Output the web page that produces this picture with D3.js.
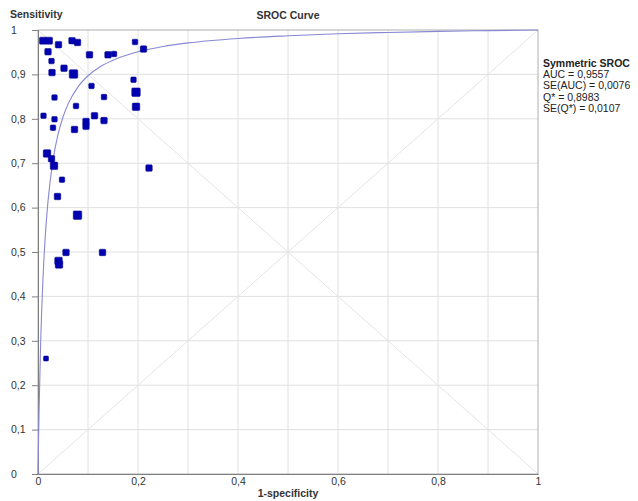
<!DOCTYPE html>
<html>
<head>
<meta charset="utf-8">
<script src="https://cdn.jsdelivr.net/npm/d3@7"></script>
<style>
    body { margin: 0; background: #fff; }
    text { font-family: "Liberation Sans", Arial, sans-serif; }
</style>
</head>
<body>
<script>
// study points: 1-specificity, sensitivity, marker size (weight)
const fpr = [0.010, 0.022, 0.041, 0.068, 0.079, 0.194, 0.211, 0.020, 0.103, 0.140,
    0.152, 0.027, 0.052, 0.028, 0.071, 0.191, 0.196, 0.107, 0.033, 0.132,
    0.076, 0.196, 0.011, 0.033, 0.113, 0.096, 0.096, 0.132, 0.030, 0.073,
    0.018, 0.027, 0.032, 0.222, 0.048, 0.039, 0.079, 0.056, 0.129, 0.041,
    0.042, 0.016];
const sens = [0.976, 0.976, 0.967, 0.976, 0.972, 0.973, 0.957, 0.951, 0.944, 0.944,
    0.946, 0.930, 0.914, 0.904, 0.901, 0.888, 0.860, 0.874, 0.848, 0.849,
    0.829, 0.827, 0.807, 0.799, 0.807, 0.794, 0.783, 0.796, 0.780, 0.776,
    0.722, 0.710, 0.694, 0.689, 0.663, 0.625, 0.583, 0.499, 0.499, 0.480,
    0.472, 0.260];
const weight = [7, 7, 6.5, 6.5, 6.5, 5.5, 6.5, 6.5, 6.5, 6.5,
    5.5, 5.5, 6.5, 6.5, 8.5, 5.5, 8.5, 5.5, 5.5, 5.5,
    5.5, 7.5, 5.5, 5.5, 6.5, 6.5, 6.5, 6.5, 5.5, 6.5,
    7.5, 6.5, 7.5, 6.5, 5.5, 6.5, 8.5, 6.5, 6.5, 7.5,
    7.5, 5];

// SROC curve
const curveX = [0, 0.0003, 0.001, 0.002, 0.005, 0.01, 0.015, 0.02, 0.03, 0.04, 0.05, 0.06,
    0.08, 0.1, 0.125, 0.15, 0.2, 0.25, 0.3, 0.4, 0.5, 0.6, 0.7, 0.8, 0.9, 1];
const curveY = [0, 0.023, 0.072, 0.135, 0.282, 0.441, 0.543, 0.614, 0.707, 0.765, 0.804, 0.833,
    0.872, 0.897, 0.918, 0.932, 0.951, 0.963, 0.971, 0.981, 0.987, 0.9915, 0.9945, 0.9968, 0.9986, 1];

const yTicks = [0, 0.1, 0.2, 0.3, 0.4, 0.5, 0.6, 0.7, 0.8, 0.9, 1];
const xTicks = [0, 0.2, 0.4, 0.6, 0.8, 1];
const gridTicks = [0.1, 0.2, 0.3, 0.4, 0.5, 0.6, 0.7, 0.8, 0.9];

const legendTitle = 'Symmetric SROC';
const legendLines = ['AUC = 0,9557', 'SE(AUC) = 0,0076', 'Q* = 0,8983', 'SE(Q*) = 0,0107'];

const width = 638, height = 501;
const margin = {top: 30, right: 100, bottom: 27, left: 38};
const w = width - margin.left - margin.right;
const h = height - margin.top - margin.bottom;

const fmt = d => d === 0 || d === 1 ? String(d) : d3.format('.1f')(d).replace('.', ',');

const svg = d3.select('body').append('svg')
    .attr('width', width)
    .attr('height', height);

const g = svg.append('g').attr('transform', `translate(${margin.left},${margin.top})`);

const x = d3.scaleLinear().domain([0, 1]).range([0, w]);
const y = d3.scaleLinear().domain([0, 1]).range([h, 0]);

// grid
g.append('g').selectAll('line')
    .data(gridTicks)
    .join('line')
    .attr('x1', d => x(d)).attr('x2', d => x(d))
    .attr('y1', 0).attr('y2', h)
    .attr('stroke', '#e0e0e0');
g.append('g').selectAll('line')
    .data(gridTicks)
    .join('line')
    .attr('y1', d => y(d)).attr('y2', d => y(d))
    .attr('x1', 0).attr('x2', w)
    .attr('stroke', '#e0e0e0');

// diagonals
g.append('line')
    .attr('x1', x(0)).attr('y1', y(0)).attr('x2', x(1)).attr('y2', y(1))
    .attr('stroke', '#e4e4e4');
g.append('line')
    .attr('x1', x(0)).attr('y1', y(1)).attr('x2', x(1)).attr('y2', y(0))
    .attr('stroke', '#e4e4e4');

// frame
g.append('rect')
    .attr('width', w).attr('height', h)
    .attr('fill', 'none')
    .attr('stroke', '#b0b0b0');

// axes
const yAxis = g.append('g')
    .call(d3.axisLeft(y).tickValues(yTicks).tickFormat(fmt).tickSize(6).tickPadding(3));
yAxis.select('.domain').attr('stroke', '#808080');
yAxis.selectAll('.tick line').attr('stroke', '#808080');
yAxis.selectAll('.tick text')
    .attr('text-anchor', 'start')
    .attr('x', -27)
    .attr('fill', '#333')
    .style('font-size', '10.5px');

const xAxis = g.append('g')
    .attr('transform', `translate(0,${h})`)
    .call(d3.axisBottom(x).tickValues(xTicks).tickFormat(fmt).tickSize(0).tickPadding(4));
xAxis.select('.domain').attr('stroke', '#808080');
xAxis.selectAll('.tick text')
    .attr('fill', '#333')
    .style('font-size', '10.5px');

// SROC curve
const curve = curveX.map((d, i) => [d, curveY[i]]);
g.append('path')
    .datum(curve)
    .attr('fill', 'none')
    .attr('stroke', '#8888d4')
    .attr('stroke-width', 1.1)
    .attr('d', d3.line().x(d => x(d[0])).y(d => y(d[1])).curve(d3.curveMonotoneX));

// study points
g.append('g').selectAll('rect')
    .data(fpr.map((d, i) => ({fpr: d, sens: sens[i], s: weight[i]})))
    .join('rect')
    .attr('x', d => x(d.fpr) - d.s / 2)
    .attr('y', d => y(d.sens) - d.s / 2)
    .attr('width', d => d.s)
    .attr('height', d => d.s)
    .attr('rx', 1)
    .attr('fill', '#0000b0')
    .attr('stroke', '#00008a')
    .attr('stroke-width', 0.5);

// titles
svg.append('text')
    .attr('x', 10).attr('y', 18)
    .style('font-size', '10.5px').style('font-weight', 'bold')
    .attr('fill', '#333')
    .text('Sensitivity');
svg.append('text')
    .attr('x', margin.left + w / 2).attr('y', 19)
    .attr('text-anchor', 'middle')
    .style('font-size', '10.5px').style('font-weight', 'bold')
    .attr('fill', '#333')
    .text('SROC Curve');
svg.append('text')
    .attr('x', margin.left + w / 2).attr('y', 497)
    .attr('text-anchor', 'middle')
    .style('font-size', '10.5px').style('font-weight', 'bold')
    .attr('fill', '#333')
    .text('1-specificity');

// legend
const leg = svg.append('g').attr('transform', 'translate(543,67)');
leg.append('text')
    .style('font-size', '10.5px').style('font-weight', 'bold')
    .attr('fill', '#222')
    .text(legendTitle);
leg.selectAll('.line')
    .data(legendLines)
    .join('text')
    .attr('class', 'line')
    .attr('y', (d, i) => (i + 1) * 11.2)
    .style('font-size', '10.5px')
    .attr('fill', '#222')
    .text(d => d);
</script>
</body>
</html>
